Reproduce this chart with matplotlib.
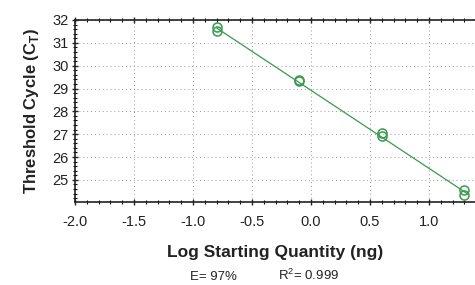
import matplotlib

matplotlib.use("Agg")
import matplotlib.pyplot as plt
from matplotlib.ticker import MultipleLocator

GREEN = "#3a9a4f"
INK = "#222222"

# replicate standards: log quantity (ng) and Ct
log_qty = [-0.8, -0.8, -0.1, -0.1, 0.6, 0.6, 1.3, 1.3]
ct = [31.68, 31.52, 29.36, 29.32, 27.05, 26.90, 24.55, 24.36]
fit_x = [-0.8, 1.33]
fit_y = [31.65, 24.38]
x_ticks = [-2.0, -1.5, -1.0, -0.5, 0.0, 0.5, 1.0]
y_ticks = [25, 26, 27, 28, 29, 30, 31, 32]
efficiency = "E= 97%"
r_squared = "R$^2$= 0.999"

FAMILY = "Liberation Sans"
plt.rcParams["font.family"] = [FAMILY, "DejaVu Sans"]
plt.rcParams["mathtext.fontset"] = "custom"
plt.rcParams["mathtext.rm"] = FAMILY
plt.rcParams["mathtext.bf"] = FAMILY + ":bold"

fig = plt.figure(figsize=(4.75, 2.85), dpi=100)
ax = fig.add_axes([0.158, 0.291, 0.842, 0.639])

ax.plot(fit_x, fit_y, color=GREEN, lw=0.9, zorder=2)
ax.plot(log_qty, ct, linestyle="none", marker="o", ms=6.5, mfc="none",
        mec=GREEN, mew=1.1, zorder=3)

ax.set_xlim(-2.0, 1.39)
ax.set_ylim(24.03, 32)
ax.xaxis.set_minor_locator(MultipleLocator(0.1))
ax.yaxis.set_minor_locator(MultipleLocator(0.2))
ax.set_xticks(x_ticks, [f"{v:.1f}" for v in x_ticks])
ax.set_yticks(y_ticks)

ax.grid(which="major", color="#999999", ls=(0, (1, 3)), lw=0.7)
ax.tick_params(which="major", direction="inout", length=5, width=1.0,
               labelsize=10.5, top=True, pad=2, colors=INK)
ax.tick_params(which="minor", direction="inout", length=3, width=0.8, top=True)
ax.tick_params(axis="x", pad=7)
for side in ("left", "bottom", "top"):
    ax.spines[side].set_linewidth(1.2)
    ax.spines[side].set_color(INK)
ax.spines["right"].set_visible(False)

ax.set_xlabel("Log Starting Quantity (ng)", fontsize=12.5, fontweight="bold",
              labelpad=11, color=INK)
ax.set_ylabel(r"Threshold Cycle (C$_\mathbf{T}$)", fontsize=12,
              fontweight="bold", labelpad=8, color=INK)

fig.text(0.40, 0.008, efficiency, fontsize=9.5, color=INK, va="bottom")
fig.text(0.585, 0.008, r_squared, fontsize=9.5, color=INK, va="bottom")

fig.savefig("out.png", dpi=100)
